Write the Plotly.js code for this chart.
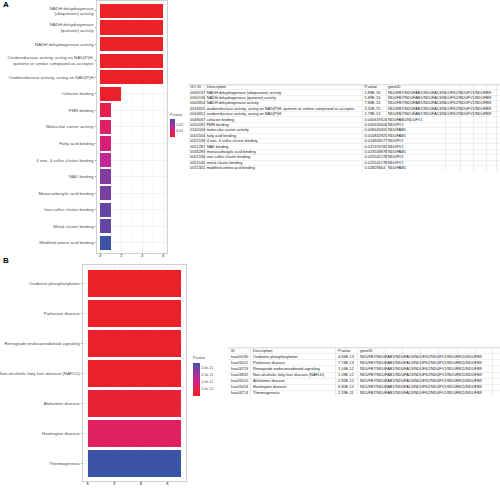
<!DOCTYPE html>
<html><head><meta charset="utf-8">
<script src="https://cdn.plot.ly/plotly-3.0.1.min.js"></script>
<style>html,body{margin:0;padding:0;background:#fff}</style>
</head><body><div id="chart" style="width:500px;height:488px"></div>
<script>
// ---------- Panel A: GO enrichment ----------
const goTerms = [
  "NADH dehydrogenase<br>(ubiquinone) activity",
  "NADH dehydrogenase<br>(quinone) activity",
  "NADH dehydrogenase activity",
  "Oxidoreductase activity, acting on NAD(P)H,<br>quinone or similar compound as acceptor",
  "Oxidoreductase activity, acting on NAD(P)H",
  "Cofactor binding",
  "FMN binding",
  "Molecular carrier activity",
  "Fatty acid binding",
  "4 iron, 4 sulfur cluster binding",
  "NAD binding",
  "Monocarboxylic acid binding",
  "Iron-sulfur cluster binding",
  "Metal cluster binding",
  "Modified amino acid binding"
];
const goCounts = [6, 6, 6, 6, 6, 2, 1, 1, 1, 1, 1, 1, 1, 1, 1];
const goPvalueText = ["5.89E-16","5.89E-16","7.88E-16","3.32E-15","2.79E-13","0.000637624","0.005634406","0.008443405","0.010842925","0.014809277","0.022374782","0.023558878","0.025541278","0.025541278","0.02829464"];
const goIds = ["0008137","0050136","0003954","0016655","0016651","0048037","0010181","0140104","0005504","0051539","0051287","0033293","0051536","0051540","0072341"];
const goDescriptions = [
  "NADH dehydrogenase (ubiquinone) activity",
  "NADH dehydrogenase (quinone) activity",
  "NADH dehydrogenase activity",
  "oxidoreductase activity, acting on NAD(P)H, quinone or similar compound as acceptor",
  "oxidoreductase activity, acting on NAD(P)H",
  "cofactor binding",
  "FMN binding",
  "molecular carrier activity",
  "fatty acid binding",
  "4 iron, 4 sulfur cluster binding",
  "NAD binding",
  "monocarboxylic acid binding",
  "iron-sulfur cluster binding",
  "metal cluster binding",
  "modified amino acid binding"
];
const goGenes = [
  "NDUFB7/NDUFAB1/NDUFA13/NDUFS2/NDUFV1/NDUFB9",
  "NDUFB7/NDUFAB1/NDUFA13/NDUFS2/NDUFV1/NDUFB9",
  "NDUFB7/NDUFAB1/NDUFA13/NDUFS2/NDUFV1/NDUFB9",
  "NDUFB7/NDUFAB1/NDUFA13/NDUFS2/NDUFV1/NDUFB9",
  "NDUFB7/NDUFAB1/NDUFA13/NDUFS2/NDUFV1/NDUFB9",
  "NDUFAB1/NDUFV1",
  "NDUFV1","NDUFAB1","NDUFAB1","NDUFV1","NDUFV1","NDUFAB1","NDUFV1","NDUFV1","NDUFAB1"
];
const goTableHeader = ["GO ID", "Description", "P.value", "geneID"];
const goColorTicks = [0.01, 0.02];
const goColorTickText = ["0.01", "0.02"];
const countTicks = [0, 2, 4, 6];

// ---------- Panel B: KEGG enrichment ----------
const keggTerms = [
  "Oxidative phosphorylation",
  "Parkinson disease",
  "Retrograde endocannabinoid signaling",
  "Non-alcoholic fatty liver disease (NAFLD)",
  "Alzheimer disease",
  "Huntington disease",
  "Thermogenesis"
];
const keggCounts = [7, 7, 7, 7, 7, 7, 7];
const keggPvalueText = ["4.84E-13","7.74E-13","1.04E-12","1.09E-12","2.92E-12","6.90E-12","2.33E-11"];
const keggIds = ["hsa00190","hsa05012","hsa04723","hsa04932","hsa05010","hsa05016","hsa04714"];
const keggDescriptions = [
  "Oxidative phosphorylation",
  "Parkinson disease",
  "Retrograde endocannabinoid signaling",
  "Non-alcoholic fatty liver disease (NAFLD)",
  "Alzheimer disease",
  "Huntington disease",
  "Thermogenesis"
];
const keggGenes = [
  "NDUFB7/NDUFAB1/NDUFA13/NDUFS2/NDUFV1/NDUFB11/NDUFB9",
  "NDUFB7/NDUFAB1/NDUFA13/NDUFS2/NDUFV1/NDUFB11/NDUFB9",
  "NDUFB7/NDUFAB1/NDUFA13/NDUFS2/NDUFV1/NDUFB11/NDUFB9",
  "NDUFB7/NDUFAB1/NDUFA13/NDUFS2/NDUFV1/NDUFB11/NDUFB9",
  "NDUFB7/NDUFAB1/NDUFA13/NDUFS2/NDUFV1/NDUFB11/NDUFB9",
  "NDUFB7/NDUFAB1/NDUFA13/NDUFS2/NDUFV1/NDUFB11/NDUFB9",
  "NDUFB7/NDUFAB1/NDUFA13/NDUFS2/NDUFV1/NDUFB11/NDUFB9"
];
const keggTableHeader = ["ID", "Description", "P.value", "geneID"];
const keggColorTicks = [5e-12, 1e-11, 1.5e-11, 2e-11];
const keggColorTickText = ["5.0e-12", "1.0e-11", "1.5e-11", "2.0e-11"];

// ---------- styling ----------
const W = 500, H = 488;
const fx = x => x / W;
const fy = y => 1 - y / H;
const FONT = "Liberation Sans, Arial, Helvetica, sans-serif";
const colorscale = [
  [0, "#ec2027"], [0.1, "#e92236"], [0.25, "#e1215a"], [0.4, "#d5207c"],
  [0.55, "#bd2a9b"], [0.75, "#8a3a9e"], [0.85, "#7340a0"], [0.92, "#5f48a3"], [1, "#3a53a4"]
];
const goP = goPvalueText.map(Number);
const keggP = keggPvalueText.map(Number);

function tableTrace(header, cols, xStarts, xa, ya) {
  const xs = [], ys = [], ts = [];
  header.forEach((h, j) => { xs.push(xStarts[j]); ys.push(0.5); ts.push(h); });
  cols.forEach((col, j) => col.forEach((v, i) => { xs.push(xStarts[j]); ys.push(i + 1.5); ts.push(v); }));
  return {
    type: "scatter", mode: "text", x: xs, y: ys, text: ts, xaxis: xa, yaxis: ya,
    textposition: "middle right", cliponaxis: false, hoverinfo: "skip",
    textfont: { family: FONT, size: 3.9, color: "#1a1a1a" }
  };
}

const data = [
  { type: "bar", orientation: "h", x: goCounts, y: goTerms, width: 0.86,
    marker: { color: goP, coloraxis: "coloraxis" }, xaxis: "x", yaxis: "y", hoverinfo: "skip" },
  { type: "bar", orientation: "h", x: keggCounts, y: keggTerms, width: 0.9,
    marker: { color: keggP, coloraxis: "coloraxis2" }, xaxis: "x2", yaxis: "y2", hoverinfo: "skip" },
  tableTrace(goTableHeader, [goIds, goDescriptions, goPvalueText, goGenes], [2, 18.7, 176.5, 200], "x3", "y3"),
  tableTrace(keggTableHeader, [keggIds, keggDescriptions, keggPvalueText, keggGenes], [3, 25, 110, 132], "x4", "y4")
];

const barX = {
  tickvals: countTicks, showgrid: true, gridcolor: "#ebebeb", gridwidth: 0.6,
  zeroline: false, showline: true, mirror: true, linecolor: "#cfcfcf", linewidth: 1,
  ticks: "outside", ticklen: 1.5, tickwidth: 0.5, tickcolor: "#333", ticklabelstandoff: -4,
  tickfont: { family: FONT, size: 4.4, color: "#4d4d4d" }, fixedrange: true
};
const barY = {
  type: "category", showgrid: true, gridcolor: "#ebebeb", gridwidth: 0.6,
  zeroline: false, showline: true, mirror: true, linecolor: "#cfcfcf", linewidth: 1,
  ticks: "outside", ticklen: 1.5, tickwidth: 0.5, tickcolor: "#333",
  tickfont: { family: FONT, size: 4.4, color: "#4d4d4d" }, fixedrange: true
};
const cbBase = {
  xref: "paper", yref: "paper", xanchor: "left", yanchor: "bottom", lenmode: "pixels",
  thicknessmode: "pixels", xpad: 0, ypad: 0, outlinewidth: 0, ticks: "",
  tickfont: { family: FONT, size: 3.6, color: "#4d4d4d" }
};
const tableX = { showticklabels: false, showgrid: true, gridcolor: "#dcdcdc", gridwidth: 0.5, zeroline: false, ticks: "", fixedrange: true };
const tableY = { showticklabels: false, showgrid: true, gridcolor: "#e2e2e2", gridwidth: 0.5, zeroline: false, ticks: "", fixedrange: true };

const layout = {
  width: W, height: H, margin: { l: 0, r: 0, t: 0, b: 0 },
  paper_bgcolor: "#ffffff", plot_bgcolor: "#ffffff", showlegend: false,
  font: { family: FONT, size: 4.4, color: "#4d4d4d" },
  bargap: 0,
  xaxis: Object.assign({}, barX, { domain: [fx(97), fx(166.5)], range: [-0.31, 6.31], anchor: "y",
    minor: { tickvals: [1, 3, 5], showgrid: true, gridcolor: "#f3f3f3", gridwidth: 0.4 } }),
  yaxis: Object.assign({}, barY, { domain: [fy(252.8), fy(1)], categoryorder: "array", categoryarray: goTerms,
    range: [goTerms.length - 0.4, -0.6], anchor: "x" }),
  xaxis2: Object.assign({}, barX, { domain: [fx(83), fx(185.5)], range: [-0.35, 7.35], anchor: "y2",
    minor: { tickvals: [1, 3, 5, 7], showgrid: true, gridcolor: "#f3f3f3", gridwidth: 0.4 } }),
  yaxis2: Object.assign({}, barY, { domain: [fy(481), fy(265)], categoryorder: "array", categoryarray: keggTerms,
    range: [keggTerms.length - 0.4, -0.6], anchor: "x2" }),
  xaxis3: Object.assign({}, tableX, { domain: [fx(188), fx(500)], range: [0, 312], anchor: "y3",
    tickvals: [0, 16.5, 174, 198, 257, 272.5, 285, 298.5, 308.5] }),
  yaxis3: Object.assign({}, tableY, { domain: [fy(171), fy(84.5)], range: [goIds.length + 1, 0], anchor: "x3",
    tickvals: Array.from({ length: goIds.length + 2 }, (_, i) => i) }),
  xaxis4: Object.assign({}, tableX, { domain: [fx(228), fx(500)], range: [0, 272], anchor: "y4",
    tickvals: [0, 22, 107, 129, 157, 174.5, 192, 210, 229, 247, 264] }),
  yaxis4: Object.assign({}, tableY, { domain: [fy(396.5), fy(347.6)], range: [keggIds.length + 1, 0], anchor: "x4",
    tickvals: Array.from({ length: keggIds.length + 2 }, (_, i) => i) }),
  coloraxis: {
    cmin: Math.min(...goP), cmax: Math.max(...goP), colorscale: colorscale,
    colorbar: Object.assign({}, cbBase, { x: fx(170), y: fy(137.5), len: 27, thickness: 4.5,
      tickvals: goColorTicks, ticktext: goColorTickText,
      title: { text: "P.value", side: "top", font: { family: FONT, size: 3.8, color: "#4d4d4d" } } })
  },
  coloraxis2: {
    cmin: Math.min(...keggP), cmax: Math.max(...keggP), colorscale: colorscale,
    colorbar: Object.assign({}, cbBase, { x: fx(193), y: fy(395.5), len: 42, thickness: 7,
      tickvals: keggColorTicks, ticktext: keggColorTickText,
      title: { text: "P.value", side: "top", font: { family: FONT, size: 3.8, color: "#4d4d4d" } } })
  },
  shapes: [
    { type: "line", xref: "x3 domain", yref: "y3", x0: 0, x1: 1, y0: 0, y1: 0, line: { color: "#c4c4c4", width: 1.5 } },
    { type: "line", xref: "x4 domain", yref: "y4", x0: 0, x1: 1, y0: 0, y1: 0, line: { color: "#c4c4c4", width: 1.5 } }
  ],
  annotations: [
    { text: "<b>A</b>", xref: "paper", yref: "paper", x: fx(0.5), y: fy(4), xanchor: "left", yanchor: "middle",
      showarrow: false, font: { family: FONT, size: 8, color: "#000" } },
    { text: "<b>B</b>", xref: "paper", yref: "paper", x: fx(0.5), y: fy(260), xanchor: "left", yanchor: "middle",
      showarrow: false, font: { family: FONT, size: 8, color: "#000" } }
  ]
};

Plotly.newPlot("chart", data, layout, { staticPlot: true, displayModeBar: false });
</script>
</body></html>
